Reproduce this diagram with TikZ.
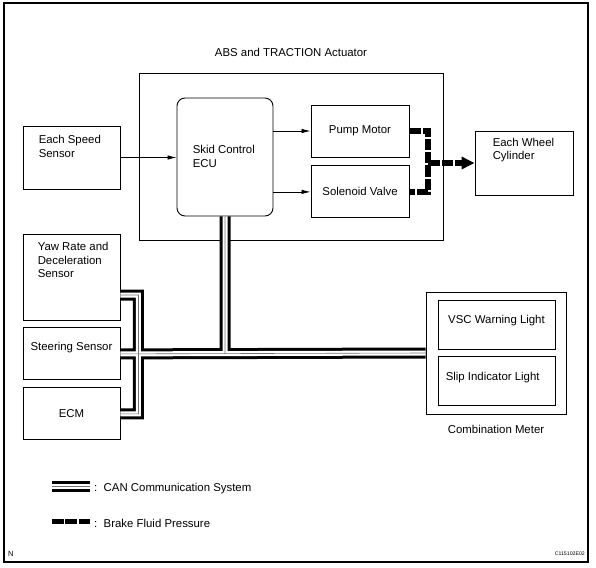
\documentclass[tikz,border=0pt]{standalone}
\usepackage{fontspec}
\setmainfont{Liberation Sans}
\usetikzlibrary{positioning}
\usetikzlibrary{arrows.meta}

\begin{document}
\begin{tikzpicture}[x=1pt, y=-1pt,
    font=\fontsize{11.4}{13.5}\selectfont,
    box/.style={draw, rectangle, line width=0.9pt, inner sep=0pt},
    txt/.style={inner sep=0pt, align=left},
    can/.style={preaction={draw, black, line width=11pt}, draw=white, line width=5pt,
        postaction={draw, black!55, line width=0.6pt}},
    fluid/.style={line width=6pt, dash pattern=on 11.5pt off 1.8pt},
    ]
        \useasboundingbox (0,0) rectangle (596,567);
        \draw[line width=1.2pt] (4,3) rectangle (588,562);

        \node[box, minimum width=304pt, minimum height=167pt,
            label={[txt, anchor=south, yshift=16pt]north:ABS and TRACTION Actuator}] (act) at (291,156.5) {};
        \node[box, rounded corners=8pt, minimum width=96pt, minimum height=118pt,
            label={[txt, anchor=north west, xshift=16pt, yshift=-47.7pt]north west:Skid Control\\ECU}] (ecu) at (225,157) {};

        \node[box, minimum width=97pt, minimum height=63pt,
            label={[txt, anchor=north west, xshift=16pt, yshift=-9.7pt]north west:Each Speed\\Sensor}] (speed) at (71.5,157.5) {};

        \node[box, minimum width=98pt, minimum height=52pt] (pump) at (360,131) {Pump Motor};
        \node[box, minimum width=98pt, minimum height=52pt] (valve) [below=8pt of pump] {Solenoid Valve};

        \node[box, minimum width=98pt, minimum height=64pt,
            label={[txt, anchor=north west, xshift=18pt, yshift=-7.2pt]north west:Each Wheel\\Cylinder}] (wheel) at (524,163) {};

        \node[box, minimum width=97pt, minimum height=86pt,
            label={[txt, anchor=north west, xshift=15pt, yshift=-8.7pt]north west:Yaw Rate and\\Deceleration\\Sensor}] (yaw) at (71.5,277) {};
        \node[box, minimum width=97pt, minimum height=52pt,
            label={[txt, anchor=north, yshift=-14.7pt]north:Steering Sensor}] (steer) [below=7pt of yaw] {};
        \node[box, minimum width=97pt, minimum height=52pt] (ecm) [below=7pt of steer] {ECM};

        \node[box, minimum width=140pt, minimum height=122pt,
            label={[txt, anchor=north, yshift=-10.7pt]south:Combination Meter}] (meter) at (496,353) {};
        \node[box, minimum width=117pt, minimum height=49pt,
            label={[txt, anchor=north, yshift=-15.7pt]north:VSC Warning Light}] (vsc) at (496.5,324.5) {};
        \node[box, minimum width=117pt, minimum height=49pt,
            label={[txt, anchor=north west, xshift=8pt, yshift=-15.7pt]north west:Slip Indicator Light}] (slip) [below=7pt of vsc] {};

        \begin{scope}[-{Latex[length=9pt, width=4.5pt]}, line width=0.8pt]
            \draw (speed.east) -- (speed.east -| ecu.west);
            \draw (ecu.east |- pump) -- (pump.west);
            \draw (ecu.east |- valve) -- (valve.west);
        \end{scope}

        \begin{scope}[fluid]
            \draw (pump.east) -- ++(19,0) coordinate (bend) |- (valve.east);
            \draw[-{Triangle[length=13pt, width=12pt]}] (bend |- wheel.west) -- (wheel.west);
        \end{scope}

        % CAN bus
        \draw[can] (ecu.south) -- (ecu.south |- meter.west)
            (steer.east) -- (meter.west)
            ([yshift=-18pt]yaw.east) -- ++(18,0) |- (ecm.east);

        % legend
        \node[txt, anchor=base west] (canlab) at (94,491) {:~~CAN Communication System};
        \node[txt, anchor=base west] (fluidlab) at (94,527) {:~~Brake Fluid Pressure};
        \draw[can] ([xshift=-42pt, yshift=4.5pt]canlab.base west) -- ([xshift=-4pt, yshift=4.5pt]canlab.base west);
        \draw[fluid, line width=5pt] ([xshift=-42pt, yshift=5.5pt]fluidlab.base west) -- ([xshift=-4pt, yshift=5.5pt]fluidlab.base west);

        \node[inner sep=0pt, anchor=base west, font=\fontsize{7.5}{9}\selectfont] (tag) at (8,556) {N};
        \node[inner sep=0pt, anchor=base east, font=\fontsize{5.2}{6}\selectfont] (code) at (585,555) {C115102E02};

    \end{tikzpicture}
\end{document}
